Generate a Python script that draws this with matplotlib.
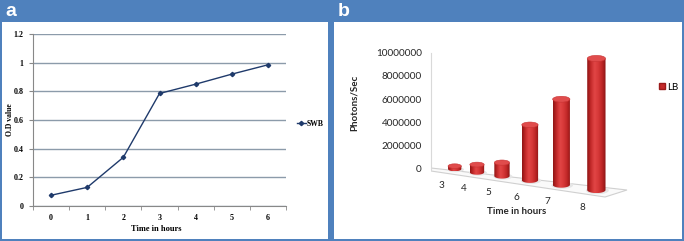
import numpy as np
import matplotlib
matplotlib.use("Agg")
import matplotlib.pyplot as plt
from matplotlib.patches import Rectangle, Ellipse, Polygon, Patch
from matplotlib.lines import Line2D
from matplotlib.colors import LinearSegmentedColormap

# panel a data
hours_a = [0, 1, 2, 3, 4, 5, 6]
od_swb = [0.075, 0.13, 0.34, 0.785, 0.85, 0.92, 0.985]

# panel b data
hours_b = ["3", "4", "5", "6", "7", "8"]
photons_lb = [250000, 380000, 550000, 3800000, 6000000, 9500000]

W, H = 684, 241
BLUE = "#4F81BD"
fig = plt.figure(figsize=(W / 100, H / 100), dpi=100, facecolor=BLUE)


def px_rect(x0, y0, x1, y1):
    return [x0 / W, 1 - y1 / H, (x1 - x0) / W, (y1 - y0) / H]


# white panels
for x0, x1 in [(2, 328), (334, 681.5)]:
    r = px_rect(x0, 22, x1, 238.5)
    fig.add_artist(Rectangle((r[0], r[1]), r[2], r[3], transform=fig.transFigure,
                             facecolor="white", edgecolor="none", zorder=0))

fig.text(5 / W, 1 - 12 / H, "a", color="white", fontsize=14, fontweight="bold",
         family="Liberation Sans", va="center", ha="left")
fig.text(338 / W, 1 - 12 / H, "b", color="white", fontsize=14, fontweight="bold",
         family="Liberation Sans", va="center", ha="left")

# ---------- panel a ----------
serif = "Liberation Serif"
ax = fig.add_axes(px_rect(33, 34, 286, 206))
ax.plot(hours_a, od_swb, color="#1F3A6B", lw=1, marker="D", markersize=2.2, zorder=3)
ax.set_xlim(-0.5, 6.5)
ax.set_ylim(0, 1.2)
ax.set_yticks(np.arange(0, 1.21, 0.2))
ax.set_yticklabels(["0", "0.2", "0.4", "0.6", "0.8", "1", "1.2"])
ax.set_xticks(hours_a)
ax.set_xticks(np.arange(-0.5, 6.6, 1), minor=True)
ax.tick_params(axis="x", which="major", length=0, pad=6)
ax.tick_params(axis="x", which="minor", length=3, color="#888888")
ax.tick_params(axis="y", length=3, color="#888888", pad=4)
for lab in ax.get_xticklabels() + ax.get_yticklabels():
    lab.set_family(serif)
    lab.set_fontweight("bold")
    lab.set_fontsize(5.8)
ax.yaxis.grid(True, color="#8C9BAA", lw=1)
ax.set_axisbelow(True)
for s in ["top", "right"]:
    ax.spines[s].set_visible(False)
for s in ["left", "bottom"]:
    ax.spines[s].set_color("#888888")
    ax.spines[s].set_linewidth(0.8)
ax.set_ylabel("O.D value", family=serif, fontweight="bold", fontsize=5.5)
ax.yaxis.set_label_coords(-19 / 253, 0.5)
ax.set_xlabel("Time in hours", family=serif, fontweight="bold", fontsize=6)
ax.xaxis.set_label_coords(0.488, -19 / 172)
ax.legend(handles=[Line2D([], [], color="#1F3A6B", lw=1, marker="D", markersize=2.2)],
          labels=["SWB"], loc="center left", bbox_to_anchor=(290 / W, 1 - 124 / H),
          bbox_transform=fig.transFigure, frameon=False, handlelength=1.2,
          handletextpad=0.1, prop={"family": serif, "weight": "bold", "size": 5.5})

# ---------- panel b ----------
ax2 = fig.add_axes(px_rect(431, 40, 660, 215))
v = 1e7 / 116.3  # value per pixel on the back wall
ax2.set_xlim(0, 229)
ax2.set_ylim(-46 * v, 129 * v)
ax2.set_autoscale_on(False)
ax2.patch.set_visible(False)
for s in ["top", "right", "bottom"]:
    ax2.spines[s].set_visible(False)
ax2.spines["left"].set_color("#D9D9D9")
ax2.spines["left"].set_bounds(0, 1e7)
ax2.set_xticks([])
ax2.set_yticks(np.arange(0, 1e7 + 1, 2e6))
ax2.set_yticklabels([f"{int(t)}" for t in np.arange(0, 1e7 + 1, 2e6)])
ax2.tick_params(axis="y", length=0, pad=6.5, labelsize=7.2, labelcolor="#262626")
for lab in ax2.get_yticklabels():
    lab.set_family("Lato")

# floor of the 3D chart
floor = [(0, 1 * v), (196, -21 * v), (174, -28 * v), (0, -2 * v)]
ax2.add_patch(Polygon(floor, closed=True, facecolor="#FAFAFA", edgecolor="#D0D0D0", lw=0.8, zorder=1))

# perspective placement of the cylinders
idx = np.arange(len(hours_b))
gaps = 22.3 * 1.12 ** idx[:-1]
cx = 23.7 + np.concatenate([[0], np.cumsum(gaps)])
drop = 0.148 * (cx - 23.7)
widths = 13.3 + idx

cyl = LinearSegmentedColormap.from_list(
    "cyl", ["#8E1414", "#C42A2A", "#E24646", "#D63838", "#BE2626", "#8A1414"])

for i, val in enumerate(photons_lb):
    w = widths[i]
    eh = 0.17 * w
    base = -drop[i] * v
    left, right = cx[i] - w / 2, cx[i] + w / 2
    # shadow on floor
    ax2.add_patch(Ellipse((cx[i] + 1, base - 0.5 * v), w * 1.25, 2 * eh * v * 1.2,
                          facecolor="#E6E6E6", edgecolor="none", zorder=2))
    t = np.linspace(np.pi, 2 * np.pi, 40)
    pts = [(left, val), (left, base)]
    pts += list(zip(cx[i] + w / 2 * np.cos(t), base + eh * v * np.sin(t)))
    pts += [(right, base), (right, val)]
    body = Polygon(pts, closed=True, facecolor="none", edgecolor="none", zorder=3)
    ax2.add_patch(body)
    im = ax2.imshow(np.linspace(0, 1, 64).reshape(1, -1), cmap=cyl, aspect="auto",
                    extent=[left, right, base - eh * v, val], interpolation="bicubic", zorder=3)
    im.set_clip_path(body)
    ax2.add_patch(Ellipse((cx[i], val), w, 2 * eh * v, facecolor="#E04C4C",
                          edgecolor="#C83232", lw=0.4, zorder=4))
    ax2.text(cx[i] - 13.5, -(drop[i] + 16 + 0.3 * i) * v, hours_b[i], fontsize=7.2,
             family="Lato", color="#262626", ha="center", va="center")

ax2.set_ylabel("Photons/Sec", fontsize=7, fontweight="bold", family="Lato", color="#262626")
ax2.yaxis.set_label_coords(-72 / 229, 0.64)
ax2.set_xlabel("Time in hours", fontsize=7, fontweight="bold", family="Lato", color="#262626")
ax2.xaxis.set_label_coords(86 / 229, 8 / 175)
ax2.legend(handles=[Patch(facecolor="#C42A2A", edgecolor="#9A1A1A")], labels=["LB"],
           loc="center left", bbox_to_anchor=(650 / W, 1 - 87 / H),
           bbox_transform=fig.transFigure, frameon=False, handlelength=0.6,
           handleheight=0.6, handletextpad=0.3, prop={"family": "Lato", "size": 7})

fig.savefig("out.png", dpi=100, facecolor=BLUE)
